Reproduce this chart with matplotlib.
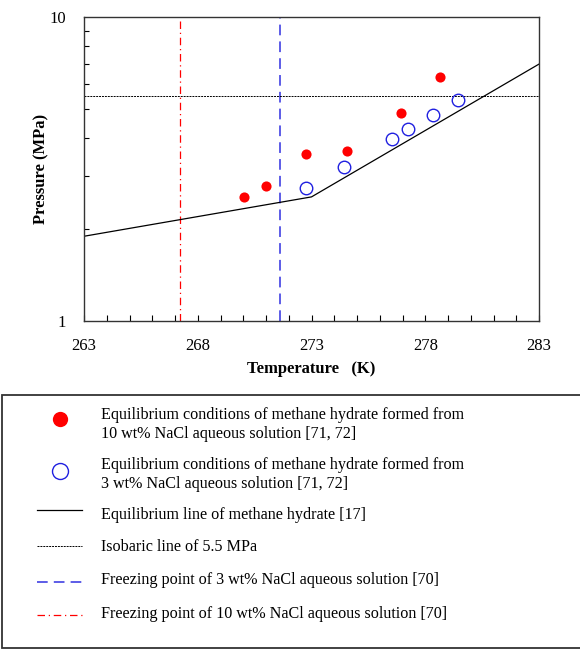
import numpy as np
import matplotlib
matplotlib.use("Agg")
import matplotlib.pyplot as plt
from matplotlib.ticker import FixedLocator, NullFormatter

plt.rcParams['font.family'] = ['Liberation Serif', 'DejaVu Serif']

# hydrate equilibrium data
t_10 = [270.05, 271.0, 272.75, 274.55, 276.93, 278.63]
p_10 = [2.56, 2.78, 3.55, 3.62, 4.84, 6.34]
t_3 = [272.75, 274.44, 276.54, 277.23, 278.33, 279.42]
p_3 = [2.73, 3.22, 3.96, 4.27, 4.76, 5.33]

# equilibrium line of methane hydrate
t_eq = [263, 273.0, 283]
p_eq = [1.90, 2.56, 7.0]

p_isobar = 5.5
t_freeze_3 = 271.6
t_freeze_10 = 267.2

x_ticks = [263, 268, 273, 278, 283]
y_ticks = [1, 10]

labels = [
    "Equilibrium conditions of methane hydrate formed from\n10 wt% NaCl aqueous solution [71, 72]",
    "Equilibrium conditions of methane hydrate formed from\n3 wt% NaCl aqueous solution [71, 72]",
    "Equilibrium line of methane hydrate [17]",
    "Isobaric line of 5.5 MPa",
    "Freezing point of 3 wt% NaCl aqueous solution [70]",
    "Freezing point of 10 wt% NaCl aqueous solution [70]",
]

W, H = 580, 670
fig = plt.figure(figsize=(W / 100, H / 100), dpi=100)
ax = fig.add_axes([84 / W, 1 - 321 / H, (539 - 84) / W, (321 - 17) / H])

red_kw = dict(color='red', linestyle=(0, (6, 3, 1, 3)), linewidth=0.9)
blue_kw = dict(color='#3030e0', linestyle=(0, (7, 4)), linewidth=1.1)
iso_kw = dict(color='black', linestyle=(0, (2, 1)), linewidth=0.7)
eq_kw = dict(color='black', linestyle='-', linewidth=0.9)
fill_kw = dict(linestyle='none', marker='o', markersize=7.3, color='red',
               markeredgewidth=0)
open_kw = dict(linestyle='none', marker='o', markersize=9, markerfacecolor='none',
               markeredgecolor='#2020e0', markeredgewidth=1.0)

ax.axvline(t_freeze_10, **red_kw)
ax.axvline(t_freeze_3, **blue_kw)
ax.axhline(p_isobar, **iso_kw)
ax.plot(t_eq, p_eq, **eq_kw)
ax.plot(t_3, p_3, **open_kw)
ax.plot(t_10, p_10, **fill_kw)

ax.set_yscale('log')
ax.set_xlim(263, 283)
ax.set_ylim(1, 10)
ax.xaxis.set_major_locator(FixedLocator(x_ticks))
ax.xaxis.set_minor_locator(FixedLocator(np.arange(263, 284, 1)))
ax.yaxis.set_major_locator(FixedLocator(y_ticks))
ax.yaxis.set_minor_locator(FixedLocator(np.arange(2, 10)))
ax.yaxis.set_minor_formatter(NullFormatter())
ax.set_yticklabels(['1', '10'])
ax.tick_params(which='both', direction='in', labelsize=12, width=0.8)
ax.tick_params(axis='x', which='both', length=4, pad=12)
ax.tick_params(axis='y', which='minor', length=3.5)
ax.tick_params(axis='y', which='major', length=0, pad=13)
for s in ax.spines.values():
    s.set_linewidth(1.0)
    s.set_color('#333333')

ax.set_xlabel('Temperature   (K)', fontsize=12, fontweight='bold', labelpad=5)
ax.set_ylabel('Pressure (MPa)', fontsize=12, fontweight='bold', labelpad=0)

# legend box drawn in pixel coordinates
lg = fig.add_axes([0, 0, 1, 1], facecolor='none')
lg.set_xlim(0, W)
lg.set_ylim(H, 0)
lg.axis('off')
lg.add_patch(plt.Rectangle((1.5, 395), W - 1, 253, fill=False,
                           edgecolor='#333333', linewidth=1.3))

row_y = [424.5, 474.5, 515, 547, 580, 614]
big_fill = dict(fill_kw, markersize=11)
big_open = dict(open_kw, markersize=11.5)
lg.plot([60], [419], **big_fill)
lg.plot([60], [471], **big_open)
lg.plot([37, 82], [510, 510], **eq_kw)
lg.plot([37, 82], [545.5, 545.5], **iso_kw)
lg.plot([37, 82], [581.5, 581.5], **blue_kw)
lg.plot([37, 82], [615, 615], **red_kw)
for y, lab in zip(row_y, labels):
    lg.text(101, y, lab, fontsize=11.6, va='center', ha='left', linespacing=1.3)

fig.savefig('out.png', dpi=100)
